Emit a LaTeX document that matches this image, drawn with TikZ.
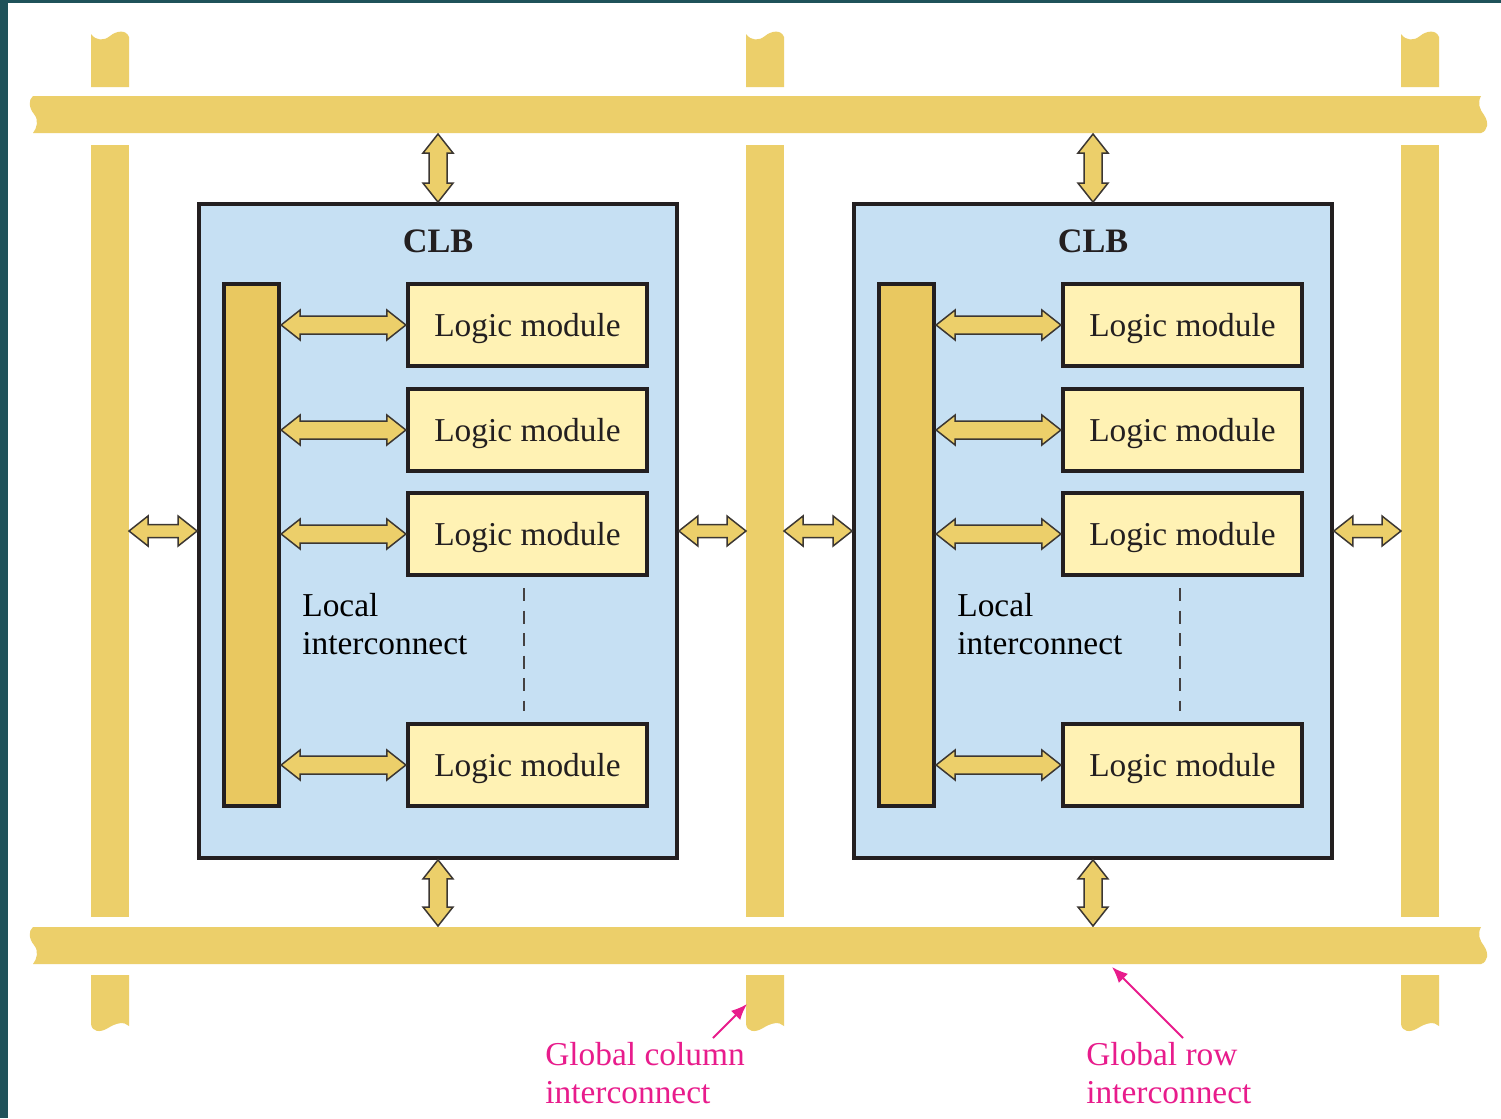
\documentclass[tikz,border=0pt]{standalone}
\usepackage{fontspec}
\setmainfont{Liberation Serif}
\usepackage{tikz}
\usetikzlibrary{arrows.meta,positioning,calc}

\definecolor{railyellow}{RGB}{236,207,106}
\definecolor{localyellow}{RGB}{233,200,96}
\definecolor{modyellow}{RGB}{255,242,180}
\definecolor{clbblue}{RGB}{198,224,243}
\definecolor{ink}{RGB}{35,31,32}
\definecolor{arrowgray}{RGB}{60,55,50}
\definecolor{calloutpink}{RGB}{232,28,140}
\definecolor{frameteal}{RGB}{31,82,90}

% double-headed block arrow between two points, [shaft half width]
\newcommand{\fatarrow}[3][1.8mm]{%
  \path (#2) coordinate (fatA) (#3) coordinate (fatB);
  \filldraw[fatarr] (fatA)
    -- ($(fatA)!3.8mm!(fatB)!3mm!90:(fatB)$)
    -- ($(fatA)!3.8mm!(fatB)!#1!90:(fatB)$)
    -- ($(fatB)!3.8mm!(fatA)!#1!-90:(fatA)$)
    -- ($(fatB)!3.8mm!(fatA)!3mm!-90:(fatA)$)
    -- (fatB)
    -- ($(fatB)!3.8mm!(fatA)!3mm!90:(fatA)$)
    -- ($(fatB)!3.8mm!(fatA)!#1!90:(fatA)$)
    -- ($(fatA)!3.8mm!(fatB)!#1!-90:(fatB)$)
    -- ($(fatA)!3.8mm!(fatB)!3mm!-90:(fatB)$)
    -- cycle;}

\begin{document}
\begin{tikzpicture}[
    x=0.2mm, y=-0.2mm,
    clb/.style={draw=ink, fill=clbblue, line width=0.75mm, minimum width=95.6mm, minimum height=130.8mm},
    localbar/.style={draw=ink, fill=localyellow, line width=0.85mm, minimum width=11mm, minimum height=104.4mm},
    logic/.style={draw=ink, fill=modyellow, line width=0.85mm, minimum width=47.8mm, minimum height=16.4mm,
                  font=\fontsize{19}{21.5}\selectfont, text=ink, text height=17.5pt, text depth=4pt},
    title/.style={font=\bfseries\fontsize{19.5}{22}\selectfont, text=ink, inner sep=0pt},
    note/.style={font=\fontsize{19}{21.5}\selectfont, align=left, inner sep=0pt},
    fatarr/.style={fill=railyellow, draw=arrowgray, line width=0.3mm, line join=miter},
    rail/.style={fill=railyellow},
    dots/.style={draw=ink!85, line width=0.4mm, dash pattern=on 2.6mm off 1.9mm},
    callout/.style={draw=calloutpink, line width=0.4mm, -{Latex[length=3.2mm, width=2.6mm]}}
]
  \useasboundingbox (0,0) rectangle (1501,1118);
  \fill[white] (0,0) rectangle (1501,1118);
  \fill[frameteal] (0,0) rectangle (8,1118);
  \fill[frameteal] (0,0) rectangle (1501,3);

  % global columns
  \foreach \x in {91,746,1401} {
    \fill[rail] (\x,87) -- (\x,34) .. controls (\x+5,41) and (\x+13,41) .. (\x+19,36)
      .. controls (\x+25,31) and (\x+35,29) .. (\x+38,37) -- (\x+38,87) -- cycle;
    \fill[rail] (\x,145) rectangle (\x+38,917);
    \fill[rail] (\x,975) -- (\x,1024) .. controls (\x+1,1032) and (\x+9,1033) .. (\x+17,1028)
      .. controls (\x+25,1023) and (\x+33,1021) .. (\x+38,1026) -- (\x+38,975) -- cycle;
  }
  % global rows
  \foreach \y in {96,927} {
    \fill[rail] (33,\y) -- (1481,\y) .. controls (1477,\y+7) and (1480,\y+14) .. (1484,\y+19)
      .. controls (1489,\y+26) and (1488,\y+35) .. (1481,\y+37) -- (33,\y+37)
      .. controls (37,\y+32) and (39,\y+24) .. (34,\y+18) .. controls (29,\y+12) and (28,\y+4) .. cycle;
  }
  \coordinate (colAr) at (129,0);
  \coordinate (colBl) at (746,0);
  \coordinate (colBr) at (784,0);
  \coordinate (colCl) at (1401,0);
  \coordinate (rowTb) at (0,134);
  \coordinate (rowBt) at (0,926);

  % left CLB
  \node[clb] (clbL) at (438,531) {};
  \node[title, below=5.5mm of clbL.north] (tL) {CLB};
  \node[localbar] (barL) at (251.5,545) {};
  \node[logic] (mL1) at (527.5,325) {Logic module};
  \node[logic] (mL2) at (527.5,430) {Logic module};
  \node[logic] (mL3) at (527.5,534) {Logic module};
  \node[logic] (mL4) at (527.5,765) {Logic module};
  \node[note, anchor=north west] (liL) at (302,593) {Local\\interconnect};
  \draw[dots] ($(mL3.south)+(-4,11)$) -- ($(mL4.north)+(-4,-11)$);

  % right CLB
  \node[clb] (clbR) at (1093,531) {};
  \node[title, below=5.5mm of clbR.north] (tR) {CLB};
  \node[localbar] (barR) at (906.5,545) {};
  \node[logic] (mR1) at (1182.5,325) {Logic module};
  \node[logic] (mR2) at (1182.5,430) {Logic module};
  \node[logic] (mR3) at (1182.5,534) {Logic module};
  \node[logic] (mR4) at (1182.5,765) {Logic module};
  \node[note, anchor=north west] (liR) at (957,593) {Local\\interconnect};
  \draw[dots] ($(mR3.south)+(-3,11)$) -- ($(mR4.north)+(-3,-11)$);

  % local links
  \foreach \m in {mL1,mL2,mL3,mL4} {\fatarrow{barL.east |- \m.west}{\m.west}}
  \foreach \m in {mR1,mR2,mR3,mR4} {\fatarrow{barR.east |- \m.west}{\m.west}}

  % global links
  \fatarrow{rowTb -| clbL.north}{clbL.north}
  \fatarrow{clbL.south}{rowBt -| clbL.south}
  \fatarrow{rowTb -| clbR.north}{clbR.north}
  \fatarrow{clbR.south}{rowBt -| clbR.south}
  \fatarrow[1.3mm]{colAr |- clbL.west}{clbL.west}
  \fatarrow[1.3mm]{clbL.east}{colBl |- clbL.east}
  \fatarrow[1.3mm]{colBr |- clbR.west}{clbR.west}
  \fatarrow[1.3mm]{clbR.east}{colCl |- clbR.east}

  % callouts
  \node[note, text=calloutpink, anchor=north west] (gCol) at (545,1042) {Global column\\interconnect};
  \node[note, text=calloutpink, anchor=north west] (gRow) at (1086,1042) {Global row\\interconnect};
  \coordinate (colTail) at (713,1038);
  \coordinate (colTip) at (747,1004);
  \coordinate (rowTail) at (1183,1038);
  \coordinate (rowTip) at (1112,967);
  \draw[callout] (colTail) -- (colTip);
  \draw[callout] (rowTail) -- (rowTip);
\end{tikzpicture}
\end{document}
